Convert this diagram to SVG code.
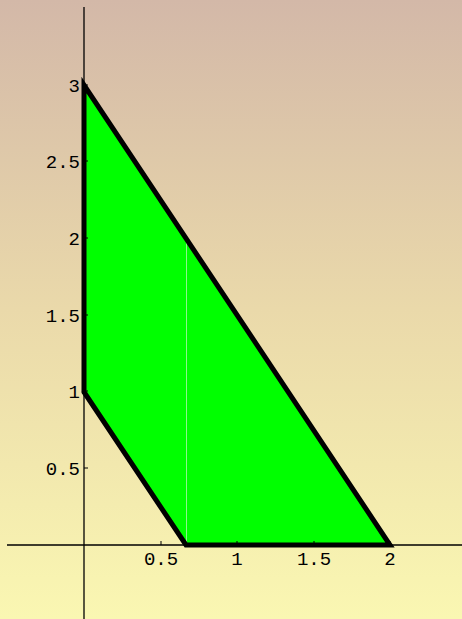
<svg xmlns="http://www.w3.org/2000/svg" width="462" height="619" viewBox="0 0 462 619">
  <defs>
    <linearGradient id="bg" x1="0" y1="0" x2="0" y2="1">
      <stop offset="0" stop-color="#D3B8A8"/>
      <stop offset="0.5" stop-color="#EAD9AA"/>
      <stop offset="1" stop-color="#FAF7B2"/>
    </linearGradient>
    <style>
      .axis { stroke: #000; stroke-width: 1.3; fill: none; }
      .tick { stroke: #000; stroke-width: 1; }
      .lbl { font-family: "Liberation Mono", "DejaVu Sans Mono", monospace; font-size: 19px; fill: #000; }
      .xl { text-anchor: middle; }
      .yl { text-anchor: end; }
    </style>
  </defs>
  <rect x="0" y="0" width="462" height="619" fill="url(#bg)"/>
  <g id="region">
    <polygon points="84,392 84,85 390,545 186,545" fill="#00FF00" stroke="none"/>
    <line x1="186.5" y1="240" x2="186.5" y2="545" stroke="#8CF58C" stroke-width="1"/>
  </g>
  <g id="axes">
    <line class="axis" x1="84" y1="7" x2="84" y2="619"/>
    <line class="axis" x1="7" y1="545" x2="462" y2="545"/>
    <line class="tick" x1="161" y1="545" x2="161" y2="541"/>
    <line class="tick" x1="237" y1="545" x2="237" y2="541"/>
    <line class="tick" x1="314" y1="545" x2="314" y2="541"/>
    <line class="tick" x1="390" y1="545" x2="390" y2="541"/>
    <line class="tick" x1="84" y1="468" x2="88" y2="468"/>
    <line class="tick" x1="84" y1="391" x2="88" y2="391"/>
    <line class="tick" x1="84" y1="315" x2="88" y2="315"/>
    <line class="tick" x1="84" y1="238" x2="88" y2="238"/>
    <line class="tick" x1="84" y1="161" x2="88" y2="161"/>
    <line class="tick" x1="84" y1="85" x2="88" y2="85"/>
  </g>
  <g id="labels">
    <text class="lbl xl" x="161" y="565">0.5</text>
    <text class="lbl xl" x="237" y="565">1</text>
    <text class="lbl xl" x="314" y="565">1.5</text>
    <text class="lbl xl" x="390" y="565">2</text>
    <text class="lbl yl" x="80" y="475">0.5</text>
    <text class="lbl yl" x="80" y="398">1</text>
    <text class="lbl yl" x="80" y="322">1.5</text>
    <text class="lbl yl" x="80" y="245">2</text>
    <text class="lbl yl" x="80" y="168">2.5</text>
    <text class="lbl yl" x="80" y="92">3</text>
  </g>
  <g id="boundary">
    <polyline points="84,392 84,85 390,545 186,545 84,392" fill="none" stroke="#000" stroke-width="5" stroke-linejoin="miter" stroke-linecap="round"/>
  </g>
</svg>
